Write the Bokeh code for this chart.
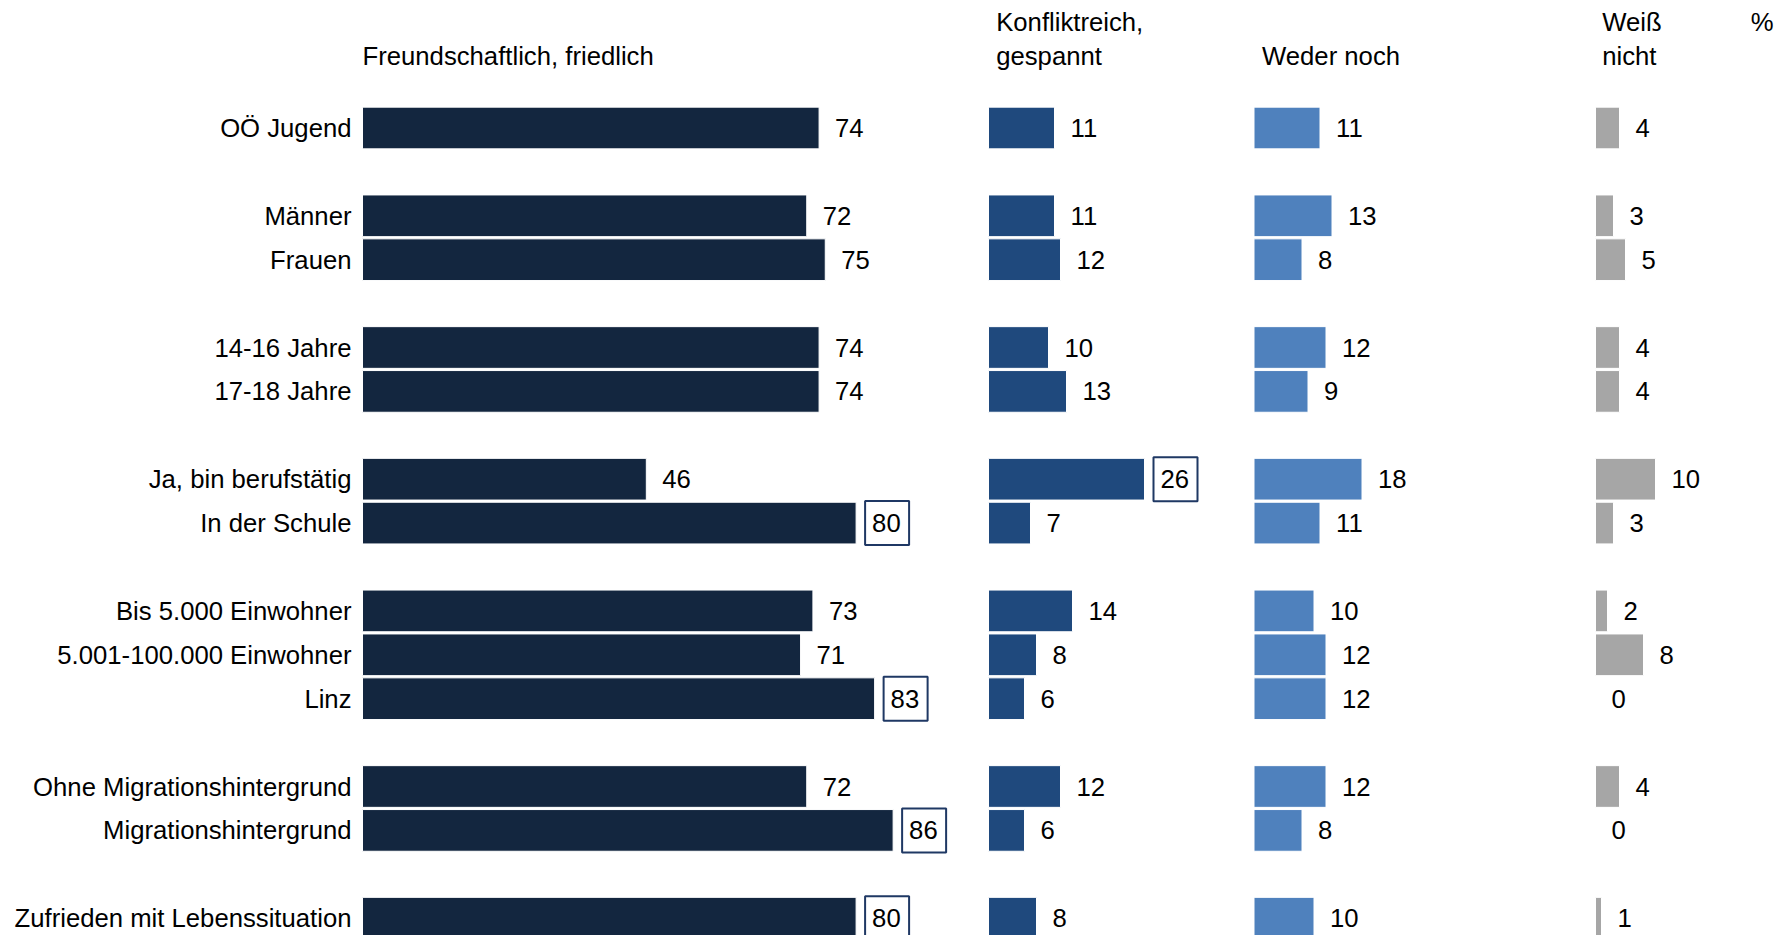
from bokeh.plotting import figure
from bokeh.models import Range1d
from bokeh.embed import file_html
from bokeh.resources import INLINE
from bokeh.core.properties import value

# ---------------- data ----------------
categories = ["OÖ Jugend", "Männer", "Frauen", "14-16 Jahre", "17-18 Jahre",
              "Ja, bin berufstätig", "In der Schule", "Bis 5.000 Einwohner",
              "5.001-100.000 Einwohner", "Linz", "Ohne Migrationshintergrund",
              "Migrationshintergrund", "Zufrieden mit Lebenssituation"]
group_sizes = [1, 2, 2, 2, 3, 2, 1]

freundschaftlich = [74, 72, 75, 74, 74, 46, 80, 73, 71, 83, 72, 86, 80]
konfliktreich = [11, 11, 12, 10, 13, 26, 7, 14, 8, 6, 12, 6, 8]
weder_noch = [11, 13, 8, 12, 9, 18, 11, 10, 12, 12, 12, 8, 10]
weiss_nicht = [4, 3, 5, 4, 4, 10, 3, 2, 8, 0, 4, 0, 1]

boxed_freundschaftlich = [False, False, False, False, False, False, True,
                          False, False, True, False, True, True]
boxed_konfliktreich = [False, False, False, False, False, True, False,
                       False, False, False, False, False, False]
boxed_weder_noch = [False] * 13
boxed_weiss_nicht = [False] * 13

series_titles = [["", "Freundschaftlich, friedlich"],
                 ["Konfliktreich,", "gespannt"],
                 ["", "Weder noch"],
                 ["Weiß", "nicht"]]
unit_label = "%"

# ---------------- layout / style ----------------
W, H = 1777, 935
ROW = 43.9            # px per row
ROW0 = 127.5          # px from top to first row centre
FONT = value("Liberation Sans")
FSIZE = "25.7px"
TXT = "#000000"
colors = ["#13263F", "#1F497D", "#4F81BD", "#A6A6A6"]
col_left_px = [362, 988, 1253.5, 1595]
col_scale = [6.17, 6.0, 6.0, 6.0]
header_dx = [0, 7.7, 8, 6.7]
header_px = [21, 55]
box_color = "#1F3864"

# row positions (one empty row between groups)
ys = []
pos = 0
for g in group_sizes:
    for i in range(g):
        ys.append(pos)
        pos += 1
    pos += 1

y_top = -ROW0 / ROW
y_bottom = y_top + H / ROW

ranges = [Range1d(start=-l / s, end=(W - l) / s) for l, s in zip(col_left_px, col_scale)]

p = figure(width=W, height=H, x_range=ranges[0],
           y_range=Range1d(start=y_bottom, end=y_top),
           output_backend="svg", toolbar_location=None,
           min_border=0, outline_line_color=None,
           background_fill_color="white", border_fill_color="white")
p.xaxis.visible = False
p.yaxis.visible = False
p.grid.visible = False
for k in (1, 2, 3):
    p.extra_x_ranges["c%d" % k] = ranges[k]
range_names = ["default", "c1", "c2", "c3"]

series = [freundschaftlich, konfliktreich, weder_noch, weiss_nicht]
boxed = [boxed_freundschaftlich, boxed_konfliktreich, boxed_weder_noch, boxed_weiss_nicht]
hy = [(h - ROW0) / ROW for h in header_px]

for k, vals in enumerate(series):
    rn = range_names[k]
    p.hbar(y=ys, left=0, right=vals, height=0.95, fill_color=colors[k],
           line_color="white", line_width=1, x_range_name=rn)
    bx = [v + 31.0 / col_scale[k] for v, b in zip(vals, boxed[k]) if b]
    by = [y for y, b in zip(ys, boxed[k]) if b]
    if bx:
        p.scatter(x=bx, y=by, marker="square", size=44, fill_color="white",
                  line_color=box_color, line_width=2, x_range_name=rn)
    p.text(x=vals, y=ys, text=[str(v) for v in vals], x_offset=16, y_offset=0,
           text_align="left", text_baseline="middle", text_font=FONT,
           text_font_size=FSIZE, text_color=TXT, x_range_name=rn)
    # headers
    hx, hyy, ht = [], [], []
    for line, yy in zip(series_titles[k], hy):
        if line:
            hx.append(0)
            hyy.append(yy)
            ht.append(line)
    p.text(x=hx, y=hyy, text=ht, x_offset=header_dx[k], text_align="left",
           text_baseline="middle", text_font=FONT, text_font_size=FSIZE,
           text_color=TXT, x_range_name=rn)

# row labels
p.text(x=[0] * len(categories), y=ys, text=categories, x_offset=-11, y_offset=0,
       text_align="right", text_baseline="middle", text_font=FONT,
       text_font_size=FSIZE, text_color=TXT)

# unit label
p.text(x=[ranges[3].end], y=[hy[0]], text=[unit_label], x_offset=-4,
       text_align="right", text_baseline="middle", text_font=FONT,
       text_font_size=FSIZE, text_color=TXT, x_range_name="c3")

open("out.html", "w").write(file_html(p, INLINE))
